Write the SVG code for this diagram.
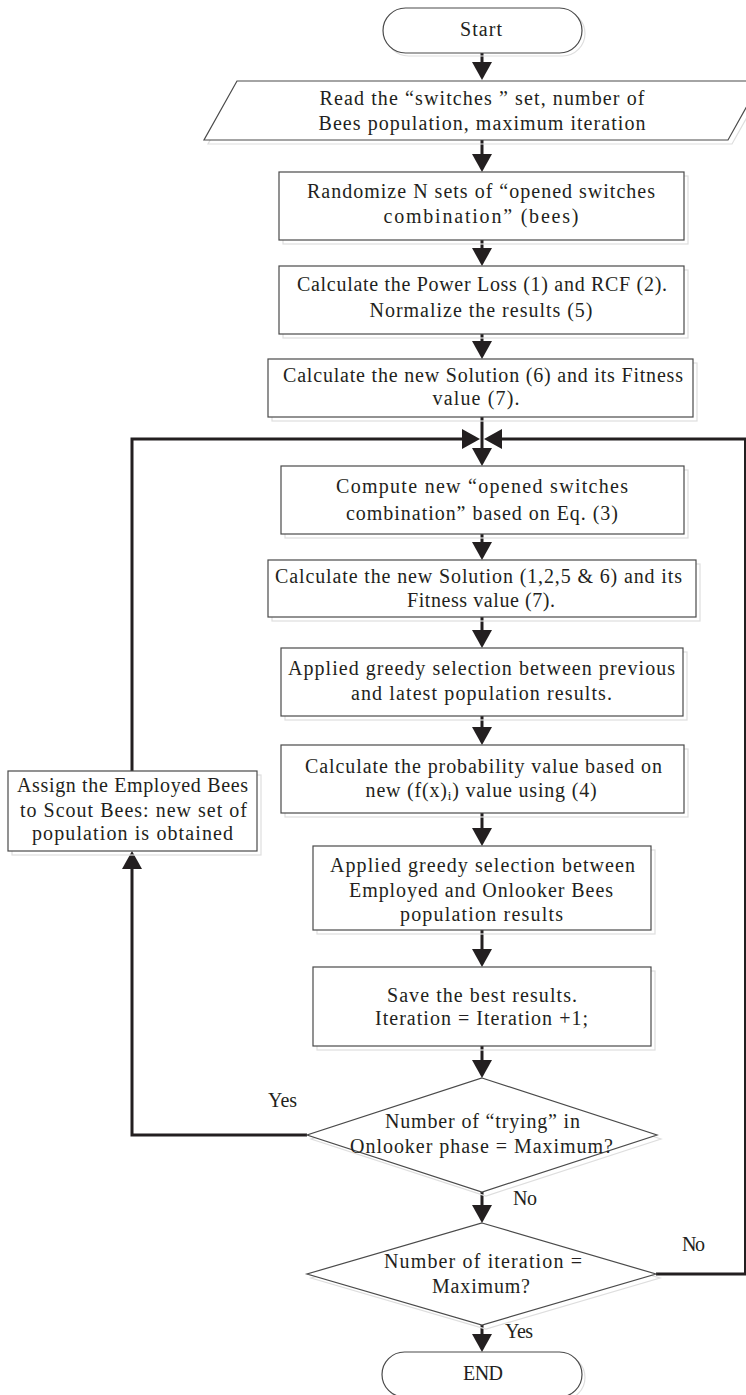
<svg xmlns="http://www.w3.org/2000/svg" width="746" height="1395" viewBox="0 0 746 1395">
<style>
.sh{fill:none;stroke:#dedede;stroke-width:1.2}
.bx{fill:#fff;stroke:#4a4a4a;stroke-width:1.2}
.t{font-family:"Liberation Serif","DejaVu Serif",serif;font-size:20px;fill:#231f20;text-anchor:middle}
.lb{font-family:"Liberation Serif","DejaVu Serif",serif;font-size:20px;fill:#231f20}
.c{fill:none;stroke:#231f20;stroke-width:3;marker-end:url(#ah)}
</style>
<defs>
<marker id="ah" markerUnits="userSpaceOnUse" markerWidth="18" markerHeight="20" refX="12" refY="10" orient="auto">
<path d="M0,0 L18,10 L0,20 z" fill="#231f20"/>
</marker>
</defs>
<g id="connectors">
<path class="c" d="M482,53 V74"/>
<path class="c" d="M482,140 V166"/>
<path class="c" d="M482,240 V260"/>
<path class="c" d="M482,334 V353"/>
<path class="c" d="M482,417 V460"/>
<path class="c" d="M132,771 V439 H474"/>
<path class="c" d="M656,1274 H745.5 V439 H490"/>
<path class="c" d="M482,534 V554"/>
<path class="c" d="M482,617 V642"/>
<path class="c" d="M482,716 V739"/>
<path class="c" d="M482,813 V840"/>
<path class="c" d="M482,930 V961"/>
<path class="c" d="M482,1046 V1072"/>
<path class="c" d="M307,1135 H132 V857"/>
<path class="c" d="M482,1192 V1217"/>
<path class="c" d="M482,1325 V1346"/>
</g>
<g id="start">
<rect class="sh" x="386" y="11" width="199" height="45" rx="22.5"/>
<rect class="bx" x="383" y="8" width="199" height="45" rx="22.5"/>
<text class="t" x="481" y="36" textLength="42">Start</text>
</g>
<g id="read">
<path class="sh" d="M241,85 L765,85 L732,144 L208,144 Z"/>
<path class="bx" d="M237,81 L761,81 L728,140 L204,140 Z"/>
<text class="t" x="482" y="105" textLength="325">Read the “switches ” set, number of</text>
<text class="t" x="482" y="130" textLength="327">Bees population, maximum iteration</text>
</g>
<g id="randomize">
<rect class="sh" x="283" y="176" width="405" height="68"/>
<rect class="bx" x="279" y="172" width="405" height="68"/>
<text class="t" x="481" y="198" textLength="348">Randomize N sets of “opened switches</text>
<text class="t" x="481" y="223" textLength="195">combination” (bees)</text>
</g>
<g id="powerloss">
<rect class="sh" x="283" y="270" width="405" height="68"/>
<rect class="bx" x="279" y="266" width="405" height="68"/>
<text class="t" x="482" y="291" textLength="370">Calculate the Power Loss (1) and RCF (2).</text>
<text class="t" x="481" y="317" textLength="223">Normalize the results (5)</text>
</g>
<g id="newsolution1">
<rect class="sh" x="272" y="363" width="425" height="58"/>
<rect class="bx" x="268" y="359" width="425" height="58"/>
<text class="t" x="483" y="382" textLength="400">Calculate the new Solution (6) and its Fitness</text>
<text class="t" x="476" y="405" textLength="87">value (7).</text>
</g>
<g id="compute">
<rect class="sh" x="285" y="470" width="403" height="68"/>
<rect class="bx" x="281" y="466" width="403" height="68"/>
<text class="t" x="482" y="493" textLength="292">Compute new “opened switches</text>
<text class="t" x="482" y="520" textLength="272">combination” based on Eq. (3)</text>
</g>
<g id="newsolution2">
<rect class="sh" x="272" y="564" width="428" height="57"/>
<rect class="bx" x="268" y="560" width="428" height="57"/>
<text class="t" x="478.5" y="583" textLength="407">Calculate the new Solution (1,2,5 &amp; 6) and its</text>
<text class="t" x="481" y="607" textLength="148">Fitness value (7).</text>
</g>
<g id="greedy1">
<rect class="sh" x="285" y="652" width="402" height="68"/>
<rect class="bx" x="281" y="648" width="402" height="68"/>
<text class="t" x="481.5" y="675" textLength="387">Applied greedy selection between previous</text>
<text class="t" x="481.5" y="700" textLength="261">and latest population results.</text>
</g>
<g id="probability">
<rect class="sh" x="285" y="749" width="403" height="68"/>
<rect class="bx" x="281" y="745" width="403" height="68"/>
<text class="t" x="483.5" y="773" textLength="357">Calculate the probability value based on</text>
<text class="t" x="481.5" y="797" letter-spacing="0.8">new (f(x)<tspan font-size="13" dy="3">i</tspan><tspan dy="-3">) value using (4)</tspan></text>
</g>
<g id="greedy2">
<rect class="sh" x="317" y="850" width="338" height="84"/>
<rect class="bx" x="313" y="846" width="338" height="84"/>
<text class="t" x="482.5" y="872" textLength="305">Applied greedy selection between</text>
<text class="t" x="481" y="897" textLength="264">Employed and Onlooker Bees</text>
<text class="t" x="481.5" y="921" textLength="163">population results</text>
</g>
<g id="save">
<rect class="sh" x="317" y="971" width="338" height="79"/>
<rect class="bx" x="313" y="967" width="338" height="79"/>
<text class="t" x="482" y="1002" textLength="190">Save the best results.</text>
<text class="t" x="481.5" y="1025" textLength="213">Iteration = Iteration +1;</text>
</g>
<g id="decision1">
<path class="sh" d="M486,1082 L661,1139 L486,1196 L311,1139 Z"/>
<path class="bx" d="M482,1078 L657,1135 L482,1192 L307,1135 Z"/>
<text class="t" x="482.5" y="1128" textLength="195">Number of “trying” in</text>
<text class="t" x="481.5" y="1153" textLength="263">Onlooker phase = Maximum?</text>
</g>
<g id="decision2">
<path class="sh" d="M486,1227 L660,1278 L486,1329 L311,1278 Z"/>
<path class="bx" d="M482,1223 L656,1274 L482,1325 L307,1274 Z"/>
<text class="t" x="483" y="1268" textLength="198">Number of iteration =</text>
<text class="t" x="481" y="1293" textLength="98">Maximum?</text>
</g>
<g id="end">
<rect class="sh" x="385" y="1355" width="200" height="45" rx="22.5"/>
<rect class="bx" x="382" y="1352" width="200" height="45" rx="22.5"/>
<text class="t" x="483" y="1380" textLength="40">END</text>
</g>
<g id="scout">
<rect class="sh" x="12" y="775" width="249" height="80"/>
<rect class="bx" x="8" y="771" width="249" height="80"/>
<text class="t" x="132.5" y="792" textLength="231">Assign the Employed Bees</text>
<text class="t" x="133.5" y="817" textLength="227">to Scout Bees: new set of</text>
<text class="t" x="132.5" y="840" textLength="201">population is obtained</text>
</g>
<g id="labels">
<text class="lb" x="268" y="1107" textLength="29">Yes</text>
<text class="lb" x="513" y="1205" textLength="24">No</text>
<text class="lb" x="682" y="1251" textLength="23">No</text>
<text class="lb" x="505" y="1338" textLength="28">Yes</text>
</g>
</svg>
